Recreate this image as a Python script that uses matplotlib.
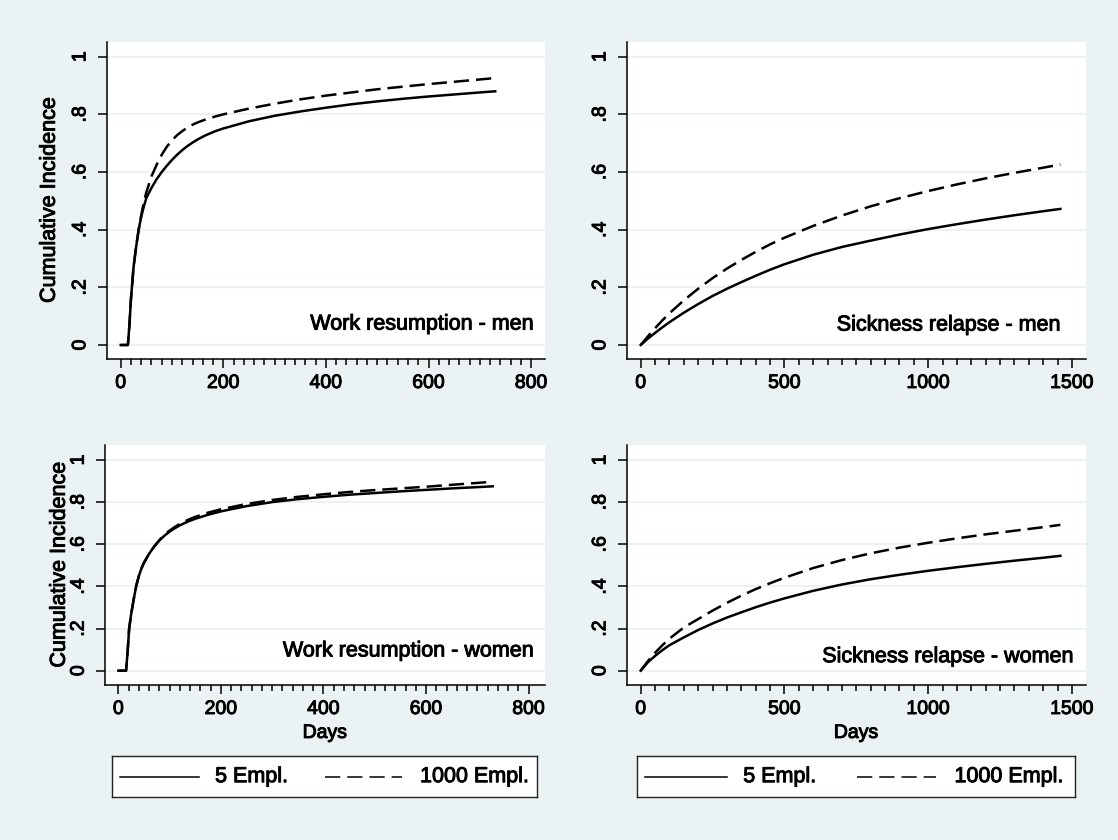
import numpy as np
import matplotlib
matplotlib.use("Agg")
import matplotlib.pyplot as plt
from matplotlib.lines import Line2D
import matplotlib.patheffects as pe
from matplotlib.text import Text

plt.rcParams['font.family'] = ['Liberation Sans', 'DejaVu Sans']
plt.rcParams['lines.scale_dashes'] = False

BG = '#eaf2f3'

# work resumption - men (days 0-730)
wr_men_days = [0, 14, 17, 20, 25, 30, 35, 40, 45, 50, 60, 70, 80, 90, 100, 110, 120, 130, 140, 150,
               165, 185, 200, 250, 300, 350, 400, 450, 500, 550, 600, 650, 700, 730]
wr_men_5 = [0, 0, 0.07, 0.16, 0.27, 0.34, 0.40, 0.445, 0.48, 0.51, 0.545, 0.575, 0.60, 0.622, 0.642, 0.66,
            0.676, 0.69, 0.702, 0.713, 0.727, 0.742, 0.751, 0.776, 0.795, 0.81, 0.823, 0.835, 0.845,
            0.854, 0.862, 0.869, 0.876, 0.88]
wr_men_1000 = [0, 0, 0.07, 0.16, 0.27, 0.34, 0.40, 0.45, 0.495, 0.53, 0.585, 0.625, 0.66, 0.688, 0.71,
               0.728, 0.742, 0.754, 0.764, 0.772, 0.782, 0.793, 0.80, 0.82, 0.837, 0.852, 0.865, 0.876,
               0.887, 0.896, 0.905, 0.913, 0.921, 0.926]

# work resumption - women (days 0-730)
wr_wom_days = [0, 15, 18, 21, 25, 30, 35, 40, 45, 50, 60, 70, 80, 90, 100, 110, 120, 135, 150, 175,
               200, 250, 300, 350, 400, 450, 500, 550, 600, 650, 700, 730]
wr_wom_5 = [0, 0, 0.09, 0.2, 0.27, 0.34, 0.405, 0.45, 0.485, 0.513, 0.555, 0.59, 0.618, 0.641, 0.66,
            0.676, 0.69, 0.707, 0.721, 0.74, 0.756, 0.781, 0.80, 0.814, 0.825, 0.835, 0.843, 0.851,
            0.858, 0.865, 0.871, 0.875]
wr_wom_1000 = [0, 0, 0.09, 0.2, 0.27, 0.34, 0.405, 0.45, 0.485, 0.513, 0.555, 0.59, 0.62, 0.645, 0.665,
               0.682, 0.697, 0.715, 0.73, 0.75, 0.766, 0.791, 0.81, 0.825, 0.837, 0.848, 0.857, 0.865,
               0.873, 0.882, 0.891, 0.897]

# sickness relapse (days 0-1460)
sr_days = [0, 25, 50, 75, 100, 150, 200, 250, 300, 350, 400, 450, 500, 600, 700, 800, 900, 1000,
           1100, 1200, 1300, 1400, 1460]
sr_men_5 = [0, 0.022, 0.042, 0.061, 0.079, 0.112, 0.142, 0.170, 0.195, 0.218, 0.240, 0.261, 0.280,
            0.313, 0.340, 0.362, 0.383, 0.402, 0.419, 0.435, 0.450, 0.464, 0.472]
sr_men_1000 = [0, 0.03, 0.058, 0.085, 0.11, 0.155, 0.195, 0.232, 0.265, 0.295, 0.323, 0.349, 0.372,
               0.413, 0.449, 0.481, 0.509, 0.534, 0.557, 0.578, 0.597, 0.615, 0.626]
sr_wom_5 = [0, 0.04, 0.07, 0.097, 0.121, 0.158, 0.193, 0.224, 0.252, 0.277, 0.301, 0.323, 0.343,
            0.379, 0.409, 0.434, 0.455, 0.474, 0.491, 0.507, 0.522, 0.536, 0.545]
sr_wom_1000 = [0, 0.045, 0.085, 0.12, 0.152, 0.205, 0.245, 0.285, 0.322, 0.356, 0.387, 0.415, 0.441,
               0.487, 0.525, 0.557, 0.584, 0.607, 0.628, 0.647, 0.664, 0.681, 0.692]

y_ticks = [0, 0.2, 0.4, 0.6, 0.8, 1]
y_ticklabels = ['0', '.2', '.4', '.6', '.8', '1']
legend_labels = ['5 Empl.', '1000 Empl.']

fig = plt.figure(figsize=(11.18, 8.4), dpi=100, facecolor=BG)

W, H = 1118.0, 840.0
def px_axes(x0, y0, x1, y1):
    return fig.add_axes([x0 / W, 1 - y1 / H, (x1 - x0) / W, (y1 - y0) / H])

panels = [
    dict(box=(106.7, 41.7, 545, 359), x=wr_men_days, a=wr_men_5, b=wr_men_1000,
         xlim=(-27.3, 827), ylim=(-0.0486, 1.052), major=np.arange(0, 801, 200), minor=np.arange(0, 801, 20),
         text='Work resumption - men', tpos=(0.973, 0.110), ylab=True, xlab=False, ylabx=-0.107),
    dict(box=(626.7, 41.7, 1085.7, 359), x=sr_days, a=sr_men_5, b=sr_men_1000,
         xlim=(-48.7, 1548), ylim=(-0.0486, 1.052), major=np.arange(0, 1501, 500), minor=np.arange(0, 1501, 50),
         text='Sickness relapse - men', tpos=(0.944, 0.107), ylab=False, xlab=False, ylabx=0),
    dict(box=(105, 445, 545, 685), x=wr_wom_days, a=wr_wom_5, b=wr_wom_1000,
         xlim=(-26.1, 832), ylim=(-0.068, 1.071), major=np.arange(0, 801, 200), minor=np.arange(0, 801, 20),
         text='Work resumption - women', tpos=(0.973, 0.142), ylab=True, xlab=True, ylabx=-0.08),
    dict(box=(626.7, 445, 1085.7, 685), x=sr_days, a=sr_wom_5, b=sr_wom_1000,
         xlim=(-48.7, 1548), ylim=(-0.068, 1.071), major=np.arange(0, 1501, 500), minor=np.arange(0, 1501, 50),
         text='Sickness relapse - women', tpos=(0.972, 0.118), ylab=False, xlab=True, ylabx=0),
]

for p in panels:
    ax = px_axes(*p['box'])
    ax.set_facecolor('white')
    ax.plot(p['x'], p['a'], color='black', lw=1.8, solid_joinstyle='round')
    ax.plot(p['x'], p['b'], color='black', lw=1.8, dashes=(11, 5))
    ax.set_xlim(*p['xlim'])
    ax.set_ylim(*p['ylim'])
    ax.set_yticks(y_ticks)
    ax.set_yticklabels(y_ticklabels, rotation=90, va='center')
    ax.set_xticks(p['major'])
    ax.set_xticklabels([str(v) for v in p['major']])
    ax.set_xticks(p['minor'], minor=True)
    ax.grid(axis='y', color=BG, lw=1.5)
    ax.set_axisbelow(True)
    for s in ['top', 'right']:
        ax.spines[s].set_visible(False)
    for s in ['left', 'bottom']:
        ax.spines[s].set_linewidth(1.1)
    ax.tick_params(axis='both', which='major', length=6.5, width=1.1, labelsize=14, pad=5)
    ax.tick_params(axis='x', which='minor', length=4.5, width=1.1)
    ax.tick_params(axis='y', pad=6)
    ax.text(p['tpos'][0], p['tpos'][1], p['text'], transform=ax.transAxes,
            ha='right', va='center', fontsize=15.5)
    if p['ylab']:
        ax.set_ylabel('Cumulative Incidence', fontsize=15.5)
        ax.yaxis.set_label_coords(p['ylabx'], 0.5)
    if p['xlab']:
        ax.set_xlabel('Days', fontsize=14, labelpad=5)

# legend boxes
def legend_box(x0, x1):
    lax = px_axes(x0, 756, x1, 797.3)
    lax.set_facecolor('white')
    lax.set_xlim(0, 1)
    lax.set_ylim(0, 1)
    lax.set_xticks([])
    lax.set_yticks([])
    for s in lax.spines.values():
        s.set_linewidth(1.0)
        s.set_edgecolor('#222222')
    lax.add_line(Line2D([0.019, 0.205], [0.5, 0.5], color='black', lw=1.1))
    lax.text(0.243, 0.5, legend_labels[0], ha='left', va='center', fontsize=15.5)
    lax.add_line(Line2D([0.502, 0.683], [0.5, 0.5], color='black', lw=1.1, dashes=(11, 5)))
    lax.text(0.725, 0.5, legend_labels[1], ha='left', va='center', fontsize=15.5)

legend_box(111.7, 537)
legend_box(636.7, 1075)

# heavier text like the original export
for t in fig.findobj(Text):
    t.set_path_effects([pe.withStroke(linewidth=0.7, foreground='black')])

fig.savefig('out.png', dpi=100, facecolor=BG)
